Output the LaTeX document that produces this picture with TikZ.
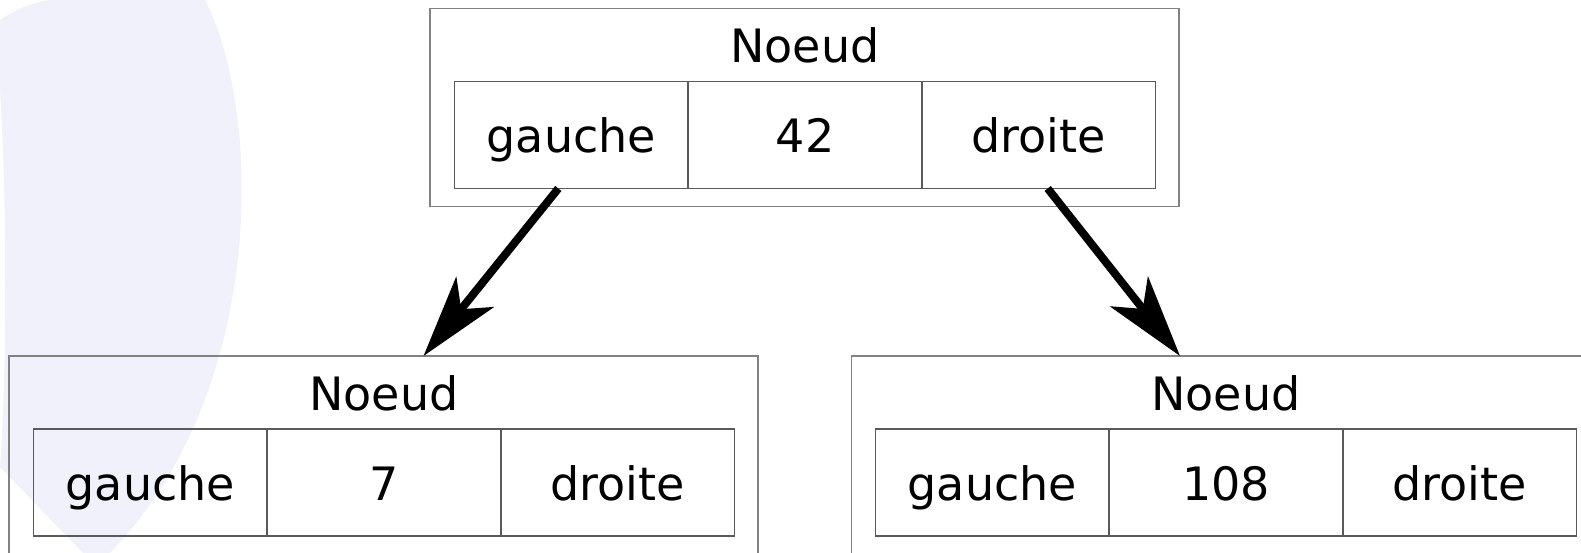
\documentclass[tikz,border=0pt]{standalone}
\usepackage{fontspec}
\setmainfont{DejaVu Sans}
\usetikzlibrary{positioning,arrows.meta}
\definecolor{fond}{RGB}{241,241,251}
\definecolor{cadre}{RGB}{130,130,130}
\definecolor{trait}{RGB}{90,90,90}

\begin{document}
\begin{tikzpicture}[
x=1pt,y=-1pt,
font=\fontsize{46}{55}\selectfont,
noeud/.style={draw=cadre, line width=1.6pt, minimum width=749pt, minimum height=198pt, inner sep=0pt, outer sep=0pt},
titre/.style={anchor=base, inner sep=0pt},
champ/.style={draw=trait, line width=1.5pt, minimum width=233.7pt, minimum height=107pt, inner sep=0pt, outer sep=0pt, text height=35pt, text depth=0pt},
lien/.style={line width=8pt, -{Stealth[length=82pt,width=48pt,inset=22pt]}},
]
\useasboundingbox (0,0) rectangle (1581,553);
\clip (0,0) rectangle (1581,553);

\fill[fond] (0,20) .. controls (15,10) and (30,3) .. (50,0) -- (205,0)
  .. controls (262,110) and (268,390) .. (110,553) -- (83,553)
  -- (0,467) .. controls (7,370) and (7,200) .. (0,90) -- cycle;

% racine
\node[noeud] (n1) at (804.5,107.5) {};
\node[titre] (t1) at (805,62.5) {Noeud};
\node[champ] (v1) at (805,135) {42};
\node[champ, left=0pt of v1] (g1) {gauche};
\node[champ, right=0pt of v1] (d1) {droite};

% fils gauche
\node[noeud] (n2) at (383.5,455) {};
\node[titre] (t2) at (384,410) {Noeud};
\node[champ] (v2) at (384,482.5) {7};
\node[champ, left=0pt of v2] (g2) {gauche};
\node[champ, right=0pt of v2] (d2) {droite};

% fils droit
\node[noeud] (n3) at (1226,455) {};
\node[titre] (t3) at (1226,410) {Noeud};
\node[champ] (v3) at (1226,482.5) {108};
\node[champ, left=0pt of v3] (g3) {gauche};
\node[champ, right=0pt of v3] (d3) {droite};

\draw[lien] ([xshift=-13pt]g1.south) -- ([xshift=40pt]n2.north);
\draw[lien] ([xshift=9pt]d1.south) -- ([xshift=-46pt]n3.north);
\end{tikzpicture}
\end{document}
